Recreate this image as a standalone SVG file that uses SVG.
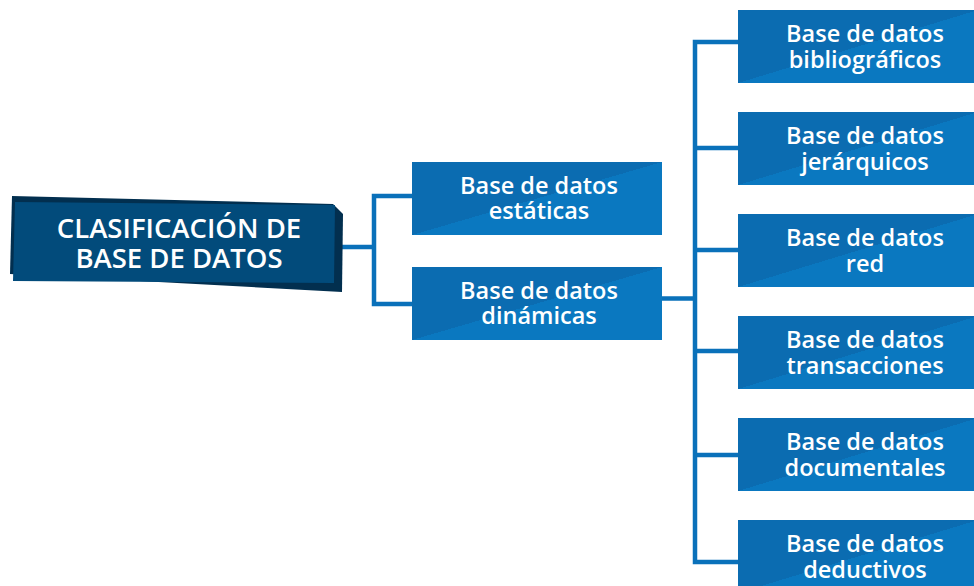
<svg xmlns="http://www.w3.org/2000/svg" width="974" height="586" viewBox="0 0 974 586">
<defs>
<linearGradient id="boxg" x1="0" y1="0" x2="1" y2="1">
<stop offset="0" stop-color="#0b6cb1"/>
<stop offset="0.5" stop-color="#0b6cb1"/>
<stop offset="0.5" stop-color="#0a78c0"/>
<stop offset="1" stop-color="#0a78c0"/>
</linearGradient>
</defs>
<style>
.box{fill:url(#boxg)}
.t{font-family:"Open Sans","Liberation Sans",sans-serif;font-weight:600;font-size:23.5px;fill:#fff;text-anchor:middle}
.rt{font-family:"Open Sans","Liberation Sans",sans-serif;font-weight:600;font-size:27.5px;fill:#fff;text-anchor:middle}
.c{fill:none;stroke:#0a71ba;stroke-width:4.5;stroke-linejoin:miter}
</style>
<g id="connectors">
<path class="c" d="M335 247 H374 M412 196 H374 V304 H412"/>
<path class="c" d="M662 298.5 H695 M738 42 H695 V562 H738 M695 148 H738 M695 250 H738 M695 351 H738 M695 455 H738"/>
</g>
<g id="root">
<polygon points="12,196 333,204 343,214 342,292 10,274" fill="#022f4f"/>
<polygon points="15,202 335,205 334,283 13,281" fill="#024b7b"/>
<text class="rt" x="179" y="238">CLASIFICACIÓN DE</text>
<text class="rt" x="179" y="268">BASE DE DATOS</text>
</g>
<g id="estaticas">
<rect class="box" x="412" y="162" width="250" height="73"/>
<text class="t" x="539" y="194">Base de datos</text>
<text class="t" x="539" y="219">estáticas</text>
</g>
<g id="dinamicas">
<rect class="box" x="412" y="267" width="250" height="73"/>
<text class="t" x="539" y="299">Base de datos</text>
<text class="t" x="539" y="324">dinámicas</text>
</g>
<g id="bibliograficos">
<rect class="box" x="738" y="10" width="240" height="73"/>
<text class="t" x="865" y="42">Base de datos</text>
<text class="t" x="865" y="68">bibliográficos</text>
</g>
<g id="jerarquicos">
<rect class="box" x="738" y="112" width="240" height="73"/>
<text class="t" x="865" y="144">Base de datos</text>
<text class="t" x="865" y="170">jerárquicos</text>
</g>
<g id="red">
<rect class="box" x="738" y="214" width="240" height="73"/>
<text class="t" x="865" y="246">Base de datos</text>
<text class="t" x="865" y="272">red</text>
</g>
<g id="transacciones">
<rect class="box" x="738" y="316" width="240" height="73"/>
<text class="t" x="865" y="348">Base de datos</text>
<text class="t" x="865" y="374">transacciones</text>
</g>
<g id="documentales">
<rect class="box" x="738" y="418" width="240" height="73"/>
<text class="t" x="865" y="450">Base de datos</text>
<text class="t" x="865" y="476">documentales</text>
</g>
<g id="deductivos">
<rect class="box" x="738" y="520" width="240" height="73"/>
<text class="t" x="865" y="552">Base de datos</text>
<text class="t" x="865" y="578">deductivos</text>
</g>
</svg>
